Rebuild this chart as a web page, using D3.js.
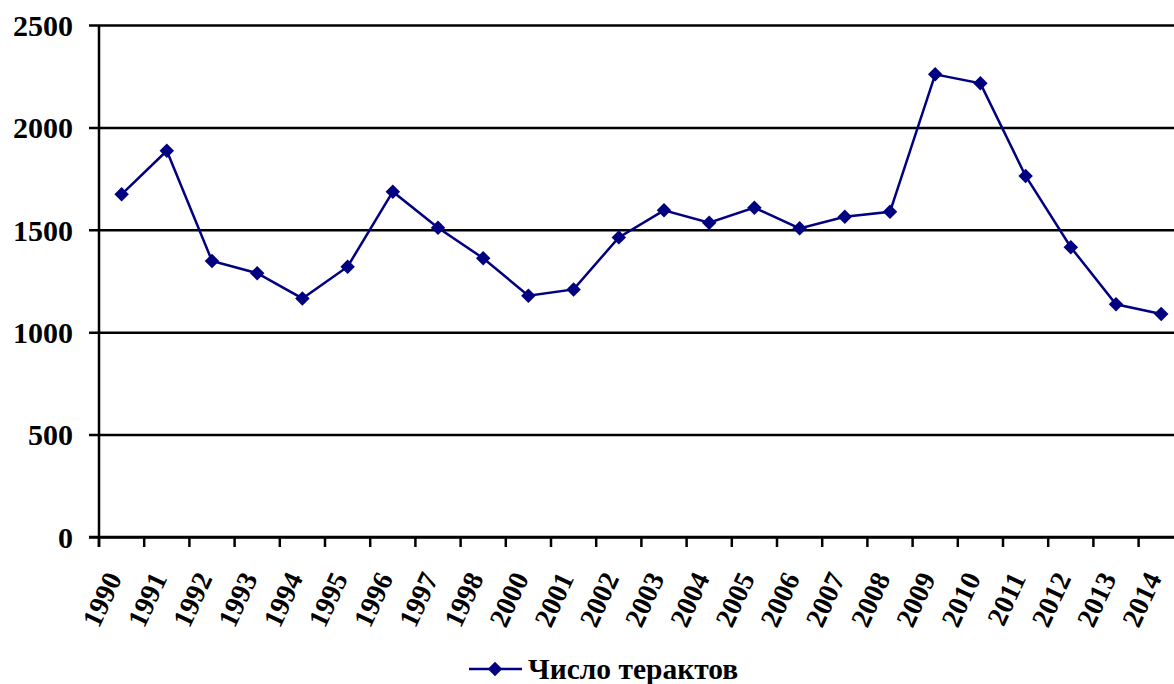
<!DOCTYPE html>
<meta charset="utf-8">
<script src="https://d3js.org/d3.v7.min.js"></script>
<style>
body { margin: 0; background: #fff; }
text { font-family: "Liberation Serif", "Times New Roman", serif; font-weight: bold; fill: #000; }
</style>
<div id="chart"></div>
<script>

// data
var years = ["1990","1991","1992","1993","1994","1995","1996","1997","1998","2000","2001","2002",
             "2003","2004","2005","2006","2007","2008","2009","2010","2011","2012","2013","2014"];
var attacks = [1673, 1886, 1348, 1288, 1165, 1320, 1686, 1510, 1361, 1178, 1209, 1463,
               1595, 1535, 1608, 1507, 1564, 1588, 2259, 2215, 1763, 1415, 1136, 1089];
var yTicks = [0, 500, 1000, 1500, 2000, 2500];
var seriesName = "Число терактов";

var W = 1174, H = 684;
var plotLeft = 99, plotTop = 25, plotBottom = 537;
var band = 45.2;
var plotRight = plotLeft + band * (years.length + 1);   // plot runs past the right edge (clipped)

var svg = d3.select("#chart").append("svg")
    .attr("width", W)
    .attr("height", H);

var x = d3.scaleBand()
    .domain(years)
    .range([plotLeft, plotLeft + band * years.length])
    .padding(0);

var y = d3.scaleLinear()
    .domain([0, 2500])
    .range([plotBottom, plotTop]);

// horizontal grid + left ticks
var yAxis = svg.append("g")
    .attr("transform", "translate(" + plotLeft + ",0)")
    .call(d3.axisLeft(y).tickValues(yTicks).tickFormat(d3.format("d"))
      .tickSize(-(plotRight - plotLeft)).tickPadding(26));
yAxis.select(".domain").remove();
yAxis.selectAll(".tick line")
    .attr("x1", -10)
    .attr("stroke", "#000")
    .attr("stroke-width", 2.5);
yAxis.selectAll(".tick text")
    .style("font-size", "30px")
    .attr("dy", "0.34em");

// y axis line
svg.append("line")
    .attr("x1", plotLeft).attr("x2", plotLeft)
    .attr("y1", plotTop).attr("y2", plotBottom + 10)
    .attr("stroke", "#000")
    .attr("stroke-width", 2.5);

// x axis line and ticks at band edges
svg.append("line")
    .attr("x1", plotLeft - 10).attr("x2", W)
    .attr("y1", plotBottom).attr("y2", plotBottom)
    .attr("stroke", "#000")
    .attr("stroke-width", 2.5);
svg.append("g").selectAll("line")
    .data(years)
    .enter().append("line")
    .attr("x1", function(d) { return x(d); })
    .attr("x2", function(d) { return x(d); })
    .attr("y1", plotBottom)
    .attr("y2", plotBottom + 10)
    .attr("stroke", "#000")
    .attr("stroke-width", 2.5);

// rotated year labels
svg.append("g").selectAll("text")
    .data(years)
    .enter().append("text")
    .attr("transform", function(d) {
      return "translate(" + (x(d) + x.bandwidth() / 2 - 8) + "," + 574 + ") rotate(-65)";
    })
    .attr("text-anchor", "end")
    .attr("dy", "0.35em")
    .style("font-size", "28px")
    .text(function(d) { return d; });

// the series
var navy = "#000080";
var line = d3.line()
    .x(function(d, i) { return x(years[i]) + x.bandwidth() / 2; })
    .y(function(d) { return y(d); });

svg.append("path")
    .datum(attacks)
    .attr("d", line)
    .attr("fill", "none")
    .attr("stroke", navy)
    .attr("stroke-width", 2.5);

var diamond = d3.symbol().type(d3.symbolSquare).size(105);

svg.append("g").selectAll("path")
    .data(attacks)
    .enter().append("path")
    .attr("d", diamond)
    .attr("transform", function(d, i) {
      return "translate(" + (x(years[i]) + x.bandwidth() / 2) + "," + y(d) + ") rotate(45)";
    })
    .attr("fill", navy);

// legend
var lg = svg.append("g").attr("transform", "translate(469,669)");
lg.append("line")
    .attr("x1", 0).attr("x2", 53)
    .attr("stroke", navy)
    .attr("stroke-width", 2.5);
lg.append("path")
    .attr("d", diamond)
    .attr("transform", "translate(26,0) rotate(45)")
    .attr("fill", navy);
lg.append("text")
    .attr("x", 59)
    .attr("dy", "0.35em")
    .style("font-size", "29.5px")
    .text(seriesName);

</script>
